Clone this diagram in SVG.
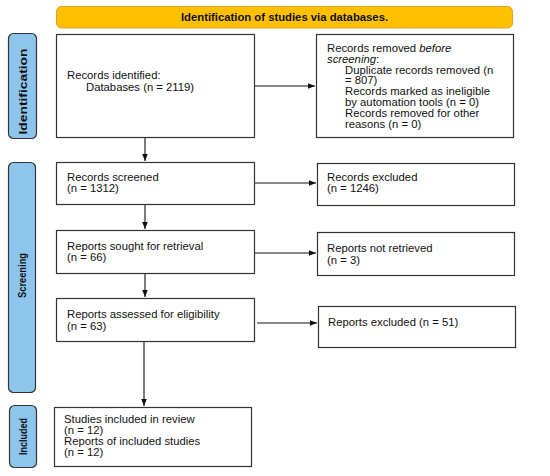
<svg xmlns="http://www.w3.org/2000/svg" width="550" height="476" viewBox="0 0 550 476">
<style>
.box{fill:#fff;stroke:#333;stroke-width:1.2}
.side{fill:#8EC5EC;stroke:#333;stroke-width:1.2}
.t{font-family:"Liberation Sans",Arial,sans-serif;font-size:11.3px;fill:#111}
.st{font-family:"Liberation Sans",Arial,sans-serif;font-size:11.5px;font-weight:bold;fill:#111}
.ln{stroke:#111;stroke-width:1.1;fill:none}
</style>
<defs>
<marker id="ah" viewBox="0 0 10 10" refX="10" refY="5" markerWidth="7" markerHeight="7" orient="auto" markerUnits="userSpaceOnUse">
<path d="M0,1 L10,5 L0,9 Z" fill="#111"/>
</marker>
</defs>
<rect width="550" height="476" fill="#fff"/>
<g id="title">
<rect x="56.5" y="6.5" width="456" height="21.5" rx="5" fill="#FFC000" stroke="#E0A020" stroke-width="1"/>
<text x="284.5" y="21" text-anchor="middle" class="t" font-size="11" font-weight="bold">Identification of studies via databases.</text>
</g>
<g id="side-identification">
<rect class="side" x="8.5" y="33.5" width="28" height="105" rx="5"/>
<text class="st" transform="translate(26.5,91.5) rotate(-90)" text-anchor="middle" textLength="86" lengthAdjust="spacingAndGlyphs">Identification</text>
</g>
<g id="side-screening">
<rect class="side" x="8.5" y="162.5" width="27" height="230" rx="5"/>
<text class="st" transform="translate(26,275.5) rotate(-90)" text-anchor="middle" textLength="45" lengthAdjust="spacingAndGlyphs">Screening</text>
</g>
<g id="side-included">
<rect class="side" x="9.5" y="405.5" width="27" height="62" rx="5"/>
<text class="st" transform="translate(27,436.5) rotate(-90)" text-anchor="middle" textLength="37" lengthAdjust="spacingAndGlyphs">Included</text>
</g>
<g id="identified">
<rect class="box" x="56.5" y="34.5" width="198" height="103"/>
<text class="t" x="67" y="79">Records identified:</text>
<text class="t" x="86" y="91">Databases (n = 2119)</text>
</g>
<g id="removed">
<rect class="box" x="316.5" y="34.5" width="197" height="103"/>
<text class="t" x="327" y="52">Records removed <tspan font-style="italic">before</tspan></text>
<text class="t" x="327" y="62.8"><tspan font-style="italic">screening</tspan>:</text>
<text class="t" x="345" y="73.6">Duplicate records removed (n</text>
<text class="t" x="345" y="84.4">= 807)</text>
<text class="t" x="345" y="95.2">Records marked as ineligible</text>
<text class="t" x="345" y="106">by automation tools (n = 0)</text>
<text class="t" x="345" y="116.8">Records removed for other</text>
<text class="t" x="345" y="127.6">reasons (n = 0)</text>
</g>
<g id="screened">
<rect class="box" x="56.5" y="162.5" width="198" height="42"/>
<text class="t" x="67" y="181">Records screened</text>
<text class="t" x="67" y="192">(n = 1312)</text>
</g>
<g id="excluded">
<rect class="box" x="317.5" y="163.5" width="197" height="42"/>
<text class="t" x="327" y="181">Records excluded</text>
<text class="t" x="327" y="192">(n = 1246)</text>
</g>
<g id="sought">
<rect class="box" x="56.5" y="230.5" width="198" height="43"/>
<text class="t" x="67" y="250">Reports sought for retrieval</text>
<text class="t" x="67" y="261">(n = 66)</text>
</g>
<g id="notretrieved">
<rect class="box" x="317.5" y="232.5" width="197" height="43"/>
<text class="t" x="327" y="252">Reports not retrieved</text>
<text class="t" x="327" y="264">(n = 3)</text>
</g>
<g id="assessed">
<rect class="box" x="56.5" y="298.5" width="198" height="43"/>
<text class="t" x="67" y="318">Reports assessed for eligibility</text>
<text class="t" x="67" y="330">(n = 63)</text>
</g>
<g id="reportsexcluded">
<rect class="box" x="318.5" y="306.5" width="197" height="41"/>
<text class="t" x="328" y="326">Reports excluded (n = 51)</text>
</g>
<g id="included">
<rect class="box" x="54.5" y="407.5" width="197" height="59"/>
<text class="t" x="64" y="423">Studies included in review</text>
<text class="t" x="64" y="434">(n = 12)</text>
<text class="t" x="64" y="445">Reports of included studies</text>
<text class="t" x="64" y="456">(n = 12)</text>
</g>
<g id="connectors">
<line class="ln" x1="255" y1="86" x2="315" y2="86" marker-end="url(#ah)"/>
<line class="ln" x1="145" y1="138" x2="145" y2="161" marker-end="url(#ah)"/>
<line class="ln" x1="255" y1="183" x2="316" y2="183" marker-end="url(#ah)"/>
<line class="ln" x1="145" y1="205" x2="145" y2="229" marker-end="url(#ah)"/>
<line class="ln" x1="255" y1="253" x2="316" y2="253" marker-end="url(#ah)"/>
<line class="ln" x1="145" y1="274" x2="145" y2="297" marker-end="url(#ah)"/>
<line class="ln" x1="257" y1="323" x2="317" y2="323" marker-end="url(#ah)"/>
<line class="ln" x1="144" y1="342" x2="144" y2="406" marker-end="url(#ah)"/>
</g>
</svg>
